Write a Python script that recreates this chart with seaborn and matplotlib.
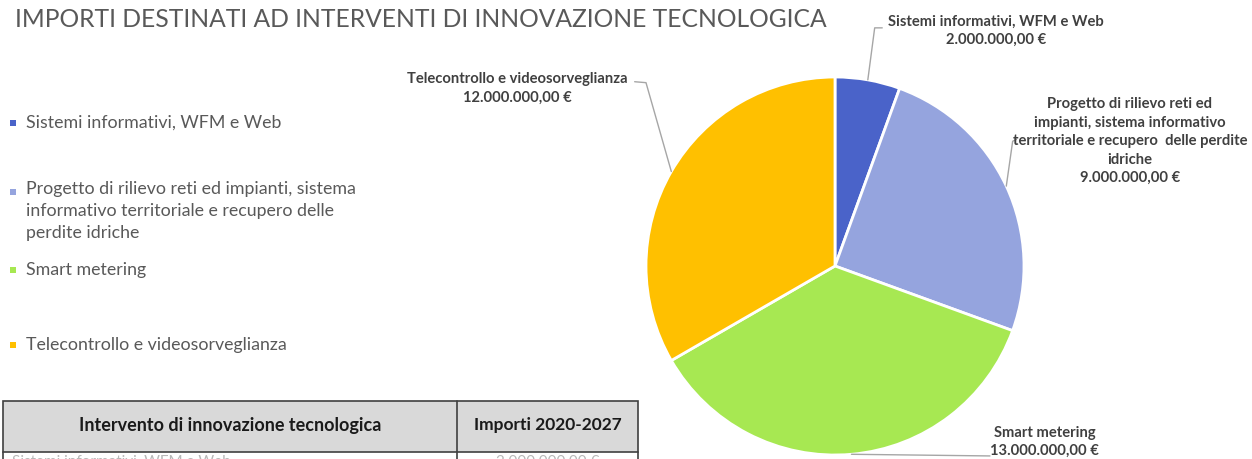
import numpy as np
import matplotlib
matplotlib.use("Agg")
import matplotlib.pyplot as plt
from matplotlib.patches import Rectangle
import seaborn as sns

# data
categories = [
    "Sistemi informativi, WFM e Web",
    "Progetto di rilievo reti ed impianti, sistema\ninformativo territoriale e recupero delle\nperdite idriche",
    "Smart metering",
    "Telecontrollo e videosorveglianza",
]
label_texts = [
    "Sistemi informativi, WFM e Web",
    "Progetto di rilievo reti ed\nimpianti, sistema informativo\nterritoriale e recupero  delle perdite\nidriche",
    "Smart metering",
    "Telecontrollo e videosorveglianza",
]
amounts = [2000000, 9000000, 13000000, 12000000]
colors = ["#4A63C9", "#95A4DE", "#A7E852", "#FFC000"]

title = "IMPORTI DESTINATI AD INTERVENTI DI INNOVAZIONE TECNOLOGICA"
table_header = ["Intervento di innovazione tecnologica", "Importi 2020-2027"]
table_row = ["Sistemi informativi, WFM e Web", "2.000.000,00 €"]


def euro(v):
    s = f"{v:,.2f}".replace(",", "X").replace(".", ",").replace("X", ".")
    return s + " €"


sns.set_theme(style="white")
plt.rcParams["font.family"] = ["Lato", "DejaVu Sans"]
palette = sns.color_palette(colors)

W, H = 1252, 459
fig = plt.figure(figsize=(W / 100, H / 100), dpi=100)

# overlay axes in pixel coordinates for title, legend and table
ov = fig.add_axes([0, 0, 1, 1])
ov.set_xlim(0, W)
ov.set_ylim(H, 0)
ov.axis("off")

txt_gray = "#595959"
ov.text(15, 27, title, fontsize=17.7, color=txt_gray, va="baseline", ha="left")

# legend (manual, uneven spacing as in the original)
legend_y = [123, 192, 270, 345]
for cat, col, y in zip(categories, palette, legend_y):
    ov.add_patch(Rectangle((10, y - 3), 6, 6, color=col, lw=0))
    if "\n" in cat:
        ov.text(26, y - 11, cat, fontsize=12.8, color=txt_gray, va="top",
                ha="left", linespacing=1.45)
    else:
        ov.text(26, y, cat, fontsize=12.8, color=txt_gray, va="center", ha="left")

# table
x0, xm, x1 = 3, 457, 638
ov.add_patch(Rectangle((x0, 401), x1 - x0, 51, facecolor="#D9D9D9", edgecolor="#404040", lw=1.2))
ov.plot([xm, xm], [401, H], color="#404040", lw=1.2)
ov.plot([x0, x0], [452, H], color="#404040", lw=1.2)
ov.plot([x1, x1], [452, H], color="#404040", lw=1.2)
ov.text((x0 + xm) / 2, 425, table_header[0], fontsize=13, fontweight="bold",
        color="#1a1a1a", ha="center", va="center")
ov.text((xm + x1) / 2, 425, table_header[1], fontsize=12.5, fontweight="bold",
        color="#1a1a1a", ha="center", va="center")
ov.text(12, 455, table_row[0], fontsize=11, color="#b8b8b8", ha="left", va="top")
ov.text((xm + x1) / 2, 455, table_row[1], fontsize=11, color="#b8b8b8", ha="center", va="top")

# pie axes, placed so that radius = 189 px, center at (835, 266)
R, cx, cy = 189, 835, 266
ax = fig.add_axes([(cx - R) / W, (H - cy - R) / H, 2 * R / W, 2 * R / H])
wedges, _ = ax.pie(amounts, colors=palette, startangle=90, counterclock=False,
                   radius=1, wedgeprops=dict(edgecolor="white", linewidth=2))
ax.set_xlim(-1, 1)
ax.set_ylim(-1, 1)
ax.set_aspect("auto")
ax.axis("off")

# label layout (data units of pie axes): elbow point, line end, text centre
layout = [
    dict(elbow=(0.21, 1.26), end=(0.25, 1.26), text=(0.85, 1.245)),
    dict(elbow=(0.94, 0.66), end=(0.96, 0.67), text=(1.56, 0.66)),
    dict(elbow=(0.82, -1.005), end=(0.82, -1.005), text=(1.11, -0.93)),
    dict(elbow=(-1.00, 0.97), end=(-1.06, 0.975), text=(-1.68, 0.94)),
]
lab_color = "#404040"
for w, lab, val, lay in zip(wedges, label_texts, amounts, layout):
    mid = np.deg2rad((w.theta1 + w.theta2) / 2)
    anchor = (np.cos(mid), np.sin(mid))
    xs = [anchor[0], lay["elbow"][0], lay["end"][0]]
    ys = [anchor[1], lay["elbow"][1], lay["end"][1]]
    ax.plot(xs, ys, color="#A6A6A6", lw=1, clip_on=False)
    ax.text(lay["text"][0], lay["text"][1], f"{lab}\n{euro(val)}", fontsize=10.6,
            fontweight="bold", color=lab_color, ha="center", va="center",
            linespacing=1.4, clip_on=False)

fig.savefig("out.png", dpi=100)
